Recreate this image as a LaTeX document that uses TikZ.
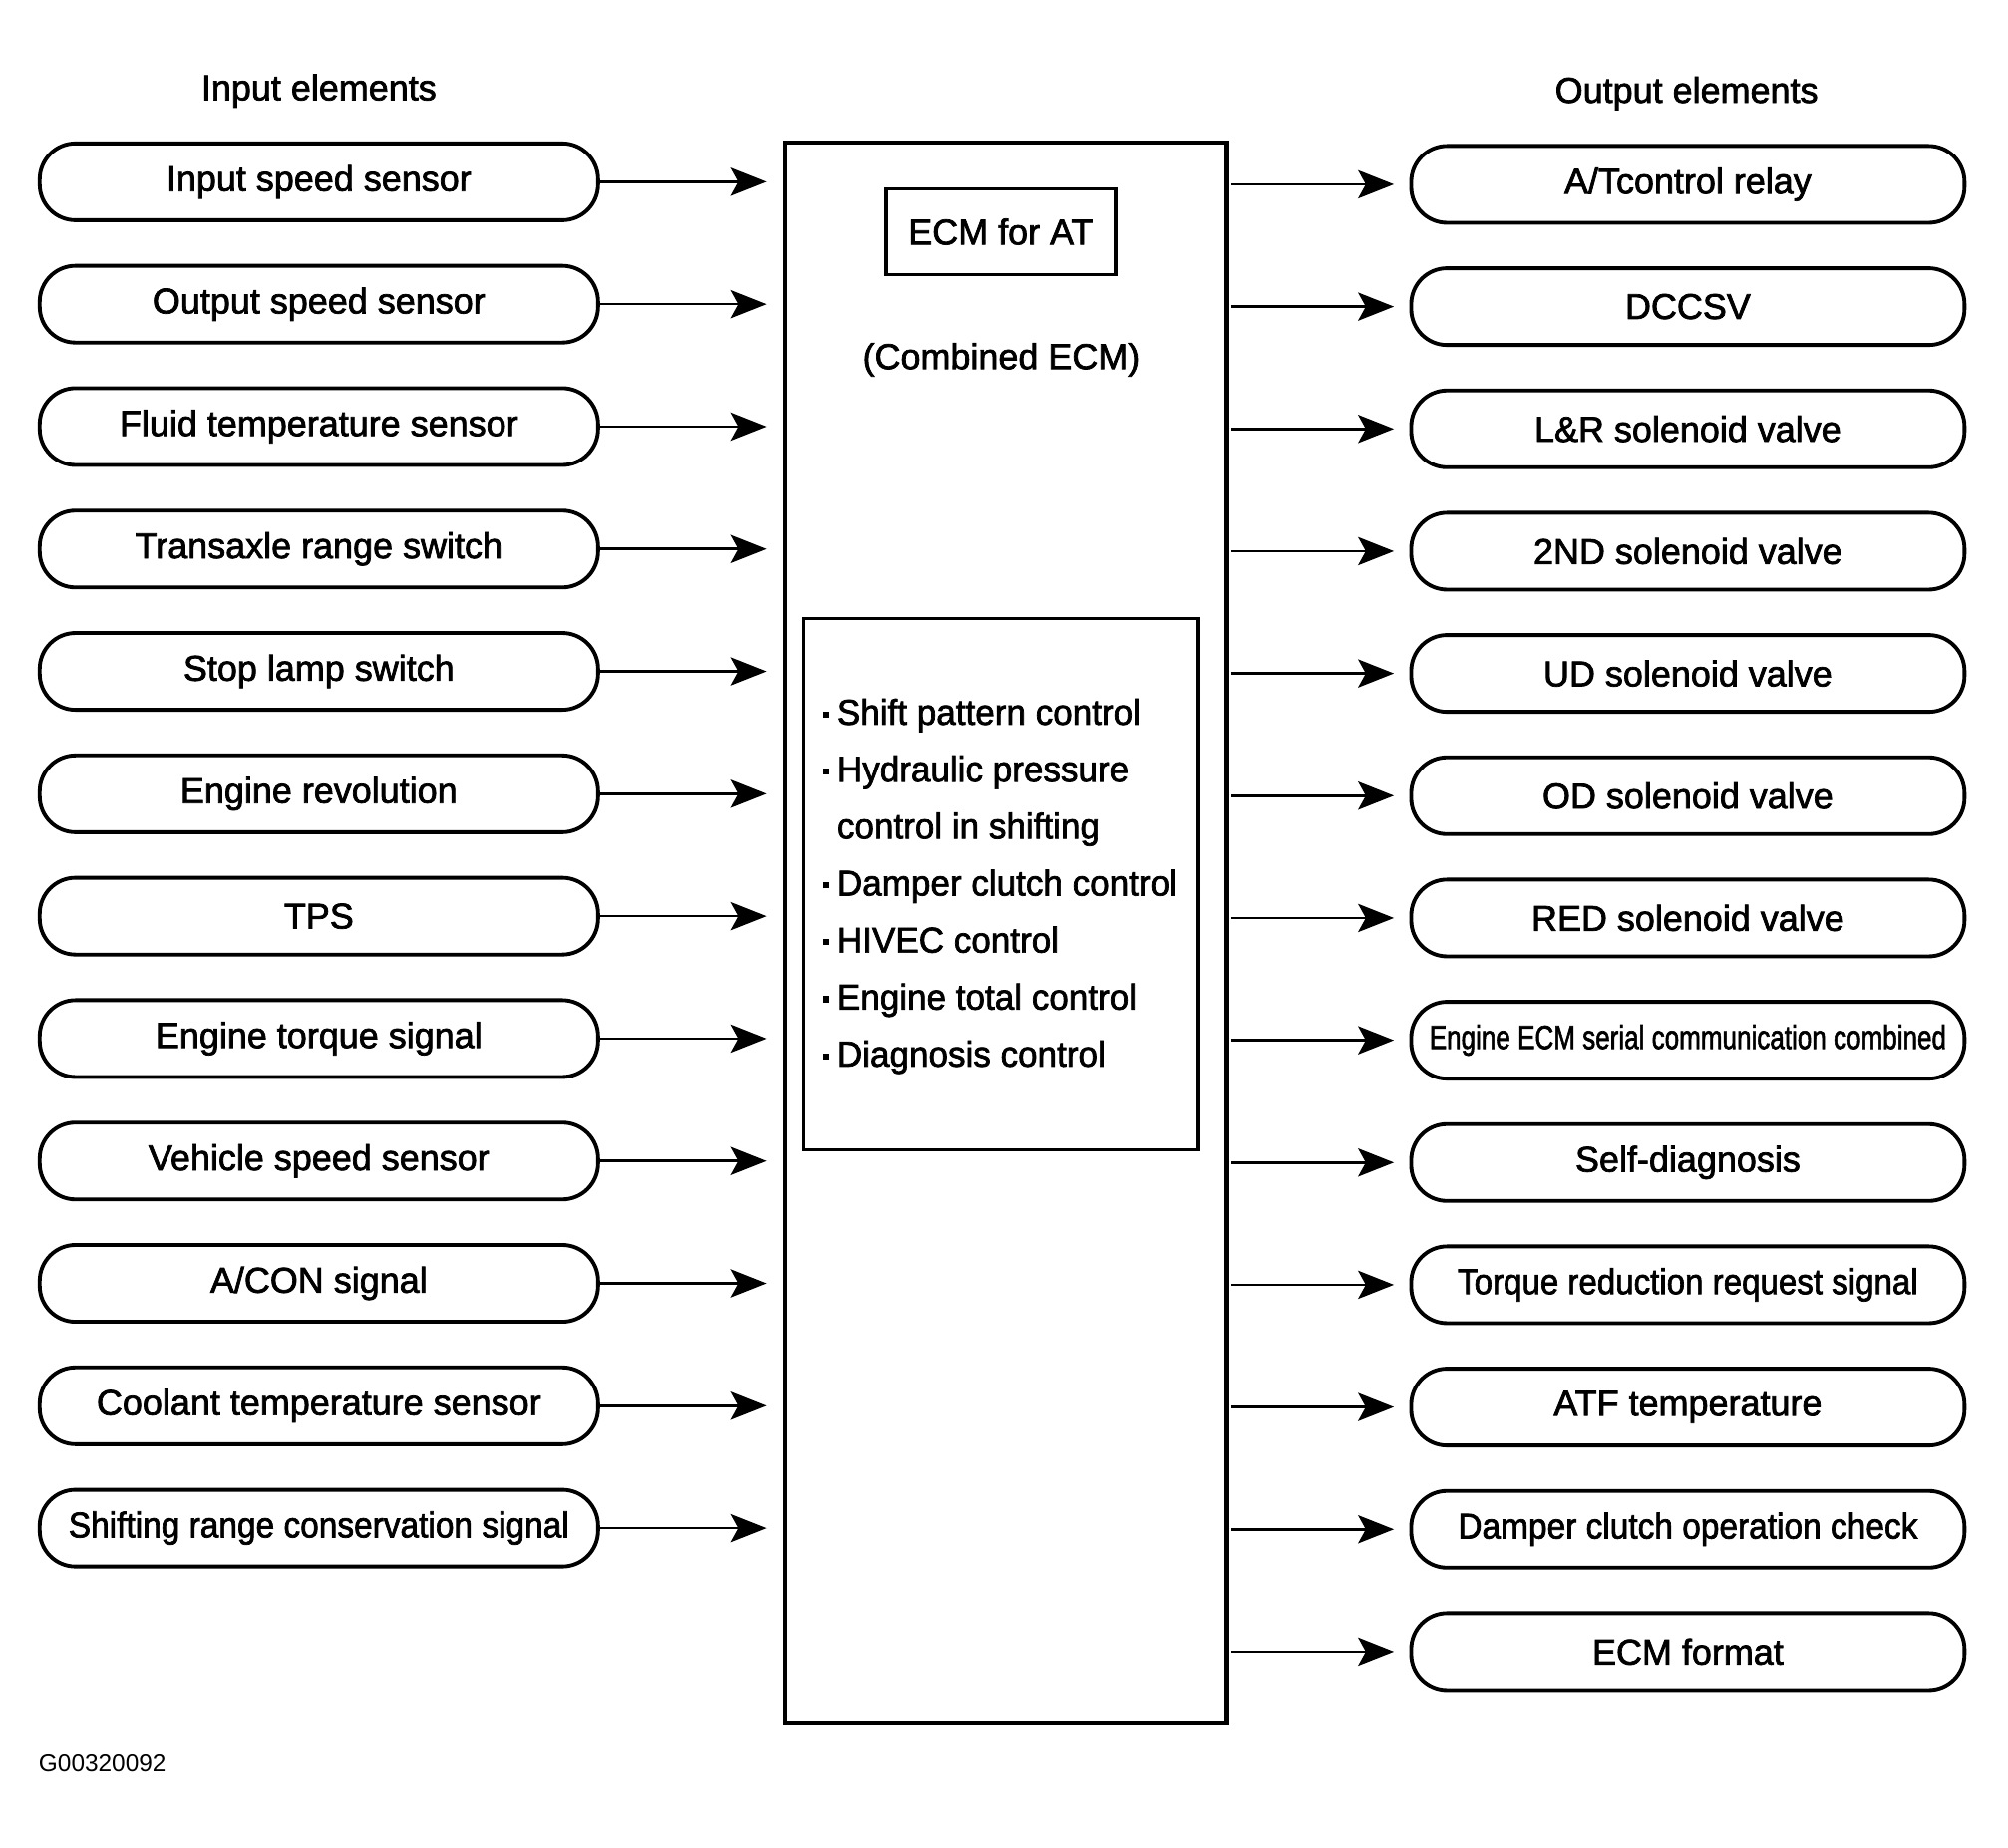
\documentclass[tikz,border=0pt]{standalone}
\usepackage{fontspec}
\setmainfont{Liberation Sans}[BoldFont={*},BoldFeatures={FakeBold=2}]
\usepackage{graphicx}
\usepackage{tikz}
\usetikzlibrary{arrows,arrows.meta,shapes,positioning}
\newcommand{\bul}{\raisebox{0.2em}{\rule{2.4pt}{2.4pt}}\hspace{3.5pt}}
\newcommand{\narrow}[2]{\scalebox{#1}[1]{#2}}

\begin{document}
\begin{tikzpicture}[x=0.5pt,y=-0.5pt,
        elem/.style={draw, line width=1.5pt, rounded corners=14pt, minimum height=30pt, inner sep=0pt, font=\fontsize{14}{16}\selectfont\bfseries},
        inelem/.style={elem, minimum width=218pt},
        outelem/.style={elem, minimum width=216pt},
        sig/.style={-{Stealth[length=14pt,width=11pt,inset=3pt]}, line width=1pt},
        txt/.style={font=\fontsize{14}{16}\selectfont\bfseries}]
        \useasboundingbox (0,0) rectangle (1568,1443.4);
        %\GraphInit[vstyle=Welsh]
        \node[txt] (inhead) at (249,71) {Input elements};
        \node[txt] (outhead) at (1317,73) {Output elements};
        \node[draw, line width=1.6pt, minimum width=172.5pt, minimum height=617.5pt] (ecm) at (785.5,728.5) {};
        \node[draw, line width=1.5pt, minimum width=89.5pt, minimum height=33.5pt, txt] (ecmat) at (781.5,181) {ECM for AT};
        \node[txt] (comb) at (782,281) {(Combined ECM)};
        \node[draw, line width=1.4pt, minimum width=154.5pt, minimum height=207.5pt] (ctlbox) at (781.5,690.5) {};
        \foreach \t [count=\k] in {\bul Shift pattern control, \bul Hydraulic pressure, \phantom{\bul}control in shifting,
                \bul Damper clutch control, \bul HIVEC control, \bul Engine total control, \bul Diagnosis control}
            \node[txt, anchor=base west, inner sep=0pt] (ctl\k) at (642,{566+(\k-1)*44.5}) {\narrow{0.975}{\t}};
        \foreach \t [count=\i] in {Input speed sensor, Output speed sensor, Fluid temperature sensor,
                Transaxle range switch, Stop lamp switch, Engine revolution, TPS, Engine torque signal,
                Vehicle speed sensor, A/CON signal, Coolant temperature sensor,
                {\narrow{0.93}{Shifting range conservation signal}}}
            \node[inelem] (in\i) at (249,{142+(\i-1)*95.6}) {\t};
        \foreach \t [count=\i] in {A/Tcontrol relay, DCCSV, L\&R solenoid valve, 2ND solenoid valve,
                UD solenoid valve, OD solenoid valve, RED solenoid valve,
                {\narrow{0.78}{\fontsize{13}{15}\selectfont\bfseries Engine ECM serial communication combined}},
                Self-diagnosis, {\narrow{0.92}{Torque reduction request signal}}, ATF temperature,
                {\narrow{0.93}{Damper clutch operation check}}, ECM format}
            \node[outelem] (out\i) at (1318,{144+(\i-1)*95.5}) {\t};
        \foreach \i in {1,...,12}
            \draw[sig, shorten >=6.5pt] (in\i.east) -- (in\i.east -| ecm.west);
        \foreach \i in {1,...,13}
            \draw[sig, shorten <=1pt, shorten >=6pt] (out\i.west -| ecm.east) -- (out\i.west);
        \node[font=\fontsize{9.5}{11}\selectfont] (figno) at (80,1377) {G00320092};
    \end{tikzpicture}
\end{document}
